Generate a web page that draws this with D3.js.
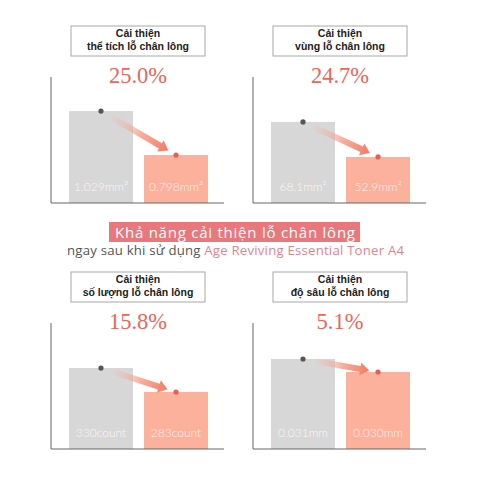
<!DOCTYPE html>
<html><head><meta charset="utf-8">
<script src="https://cdn.jsdelivr.net/npm/d3@7"></script>
<style>html,body{margin:0;padding:0;background:#fff;}svg{display:block;}</style>
</head><body>
<svg id="chart" width="480" height="480"></svg>
<script>
// ---- data ----
const titleLine1 = ["Cải thiện", "Cải thiện", "Cải thiện", "Cải thiện"];
const titleLine2 = ["thể tích lỗ chân lông", "vùng lỗ chân lông", "số lượng lỗ chân lông", "độ sâu lỗ chân lông"];
const percents = ["25.0%", "24.7%", "15.8%", "5.1%"];
const categories = ["before", "after"];
const beforeValues = [1.029, 68.1, 330, 0.031];
const afterValues = [0.798, 52.9, 283, 0.030];
const beforeLabels = ["1.029mm³", "68.1mm²", "330count", "0.031mm"];
const afterLabels = ["0.798mm³", "52.9mm²", "283count", "0.030mm"];
const yDomains = [[0.546, 1.208], [32.9, 87.6], [171.4, 418.2], [0.02408, 0.03377]];
const headline = "Khả năng cải thiện lỗ chân lông";
const subPlain = "ngay sau khi sử dụng ";
const subBrand = "Age Reviving Essential Toner A4";

// ---- layout ----
const svg = d3.select("#chart");
const origins = [[51, 203], [253, 203], [51, 449], [253, 449]];
const axisW = 173, axisH = 126;
const defs = svg.append("defs");

origins.forEach((o, i) => {
  const g = svg.append("g").attr("transform", `translate(${o[0]},${o[1]})`);
  const x = d3.scaleBand().domain(categories).range([18, 157]).paddingInner(0.147).paddingOuter(0);
  const y = d3.scaleLinear().domain(yDomains[i]).range([0, -axisH]);
  const vals = [beforeValues[i], afterValues[i]];
  const labels = [beforeLabels[i], afterLabels[i]];
  const fills = ["#d7d7d7", "#fcb19d"];

  // title box
  g.append("rect").attr("x", 87 - 67).attr("y", -177).attr("width", 134).attr("height", 30)
    .attr("fill", "#fff").attr("stroke", "#a8a8a8").attr("stroke-width", 1);
  const tt = g.append("text").attr("text-anchor", "middle")
    .attr("font-family", "Liberation Sans, Arial, sans-serif").attr("font-weight", "bold")
    .attr("font-size", 10.5).attr("fill", "#222");
  tt.append("tspan").attr("x", 87).attr("y", -166).text(titleLine1[i]);
  tt.append("tspan").attr("x", 87).attr("y", -153).text(titleLine2[i]);

  // percent
  g.append("text").attr("x", 87).attr("y", -120).attr("text-anchor", "middle")
    .attr("font-family", "Liberation Serif, Times New Roman, serif").attr("font-size", 22.5)
    .attr("fill", "#e6685a").text(percents[i]);

  // bars
  g.selectAll("rect.bar").data(categories).enter().append("rect").attr("class", "bar")
    .attr("x", d => x(d)).attr("width", x.bandwidth())
    .attr("y", (d, j) => y(vals[j])).attr("height", (d, j) => -y(vals[j]))
    .attr("fill", (d, j) => fills[j]);

  // value labels
  g.selectAll("text.val").data(categories).enter().append("text").attr("class", "val")
    .attr("x", d => x(d) + x.bandwidth() / 2).attr("y", -12)
    .attr("text-anchor", "middle").attr("font-family", "Lato, sans-serif").attr("font-weight", 300)
    .attr("font-size", 12).attr("fill", "#fff").attr("fill-opacity", 0.85)
    .text((d, j) => labels[j]);

  // axes
  g.append("line").attr("x1", 0).attr("x2", 0).attr("y1", 0).attr("y2", -axisH)
    .attr("stroke", "#666").attr("stroke-width", 1);
  g.append("line").attr("x1", 0).attr("x2", axisW).attr("y1", 0).attr("y2", 0)
    .attr("stroke", "#666").attr("stroke-width", 1);

  // arrow
  const gx = x("before") + x.bandwidth() / 2, gy = y(vals[0]);
  const px = x("after") + x.bandwidth() / 2, py = y(vals[1]);
  const dx = px - gx, dy = py - gy, len = Math.hypot(dx, dy);
  const ux = dx / len, uy = dy / len;
  const sx = gx + ux * 12, sy = gy + uy * 12;
  const ex = px - ux * 9, ey = py - uy * 9;
  const L = Math.hypot(ex - sx, ey - sy);
  const ang = Math.atan2(ey - sy, ex - sx) * 180 / Math.PI;
  const gid = "ag" + i;
  const lg = defs.append("linearGradient").attr("id", gid).attr("gradientUnits", "userSpaceOnUse")
    .attr("x1", 0).attr("y1", 0).attr("x2", L).attr("y2", 0);
  lg.append("stop").attr("offset", 0).attr("stop-color", "#f8b4a2").attr("stop-opacity", 0.1);
  lg.append("stop").attr("offset", 0.55).attr("stop-color", "#f5957e").attr("stop-opacity", 0.8);
  lg.append("stop").attr("offset", 1).attr("stop-color", "#f27a62").attr("stop-opacity", 1);
  const hw = 3, headL = 9, headW = 6.5;
  const pts = [[0, -hw], [L - headL, -hw], [L - headL, -headW], [L, 0], [L - headL, headW], [L - headL, hw], [0, hw]];
  g.append("path").attr("d", "M" + pts.map(p => p.join(",")).join("L") + "Z")
    .attr("transform", `translate(${sx},${sy}) rotate(${ang})`)
    .attr("fill", `url(#${gid})`);

  // dots
  g.append("circle").attr("cx", gx).attr("cy", gy).attr("r", 2.6).attr("fill", "#555");
  g.append("circle").attr("cx", px).attr("cy", py).attr("r", 2.6).attr("fill", "#e8604f");
});

// headline banner
svg.append("rect").attr("x", 109).attr("y", 222).attr("width", 251).attr("height", 20)
  .attr("fill", "#e8787c");
svg.append("text").attr("x", 235).attr("y", 237.5).attr("text-anchor", "middle")
  .attr("font-family", "Open Sans, Noto Sans, sans-serif").attr("font-weight", 500)
  .attr("font-size", 15).attr("textLength", 240).attr("lengthAdjust", "spacing")
  .attr("fill", "#fff").text(headline);

const st = svg.append("text").attr("x", 235.5).attr("y", 255).attr("text-anchor", "middle")
  .attr("font-family", "Open Sans, Noto Sans, sans-serif").attr("font-size", 13.2)
  .attr("textLength", 337).attr("lengthAdjust", "spacing");
st.append("tspan").attr("fill", "#555").text(subPlain);
st.append("tspan").attr("fill", "#e08590").text(subBrand);
</script>
</body></html>
